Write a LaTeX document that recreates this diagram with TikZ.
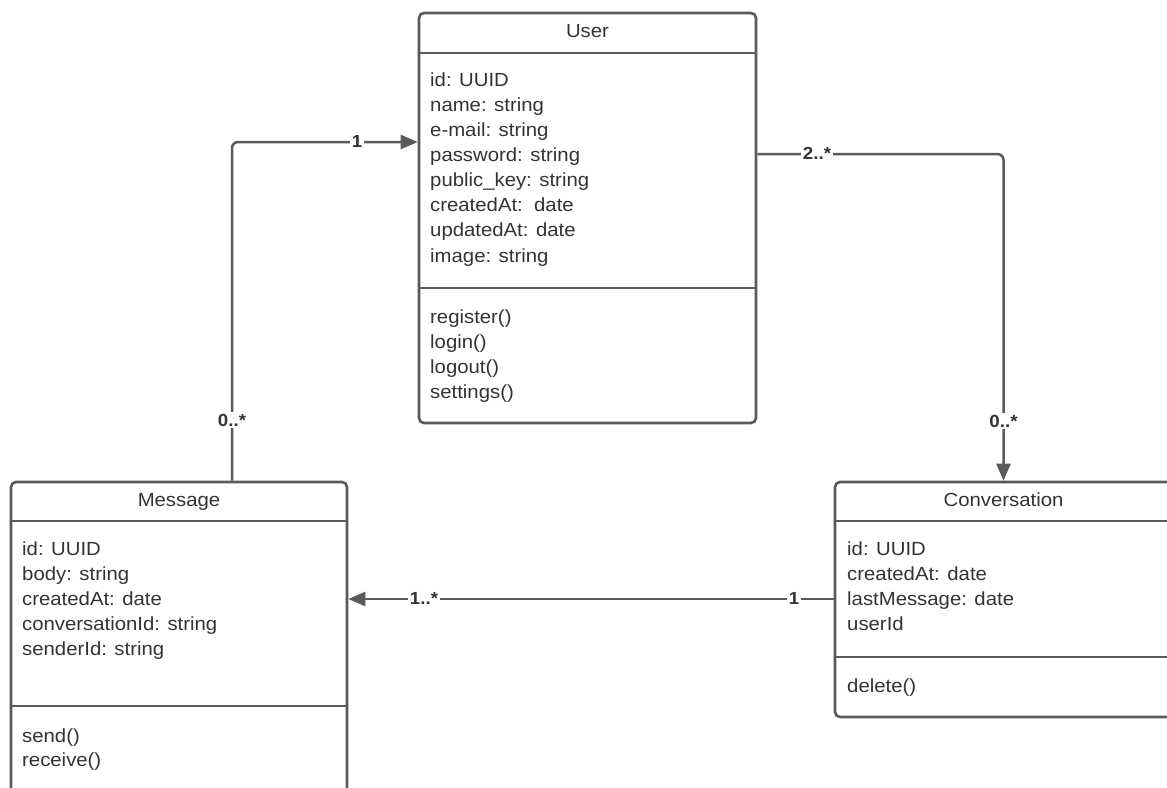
\documentclass[tikz,border=0pt]{standalone}
\usepackage{fontspec}
\setmainfont[FakeStretch=1.07]{Liberation Sans}
\usetikzlibrary{arrows.meta}
\definecolor{linec}{HTML}{5A5A5A}
\definecolor{textc}{HTML}{333333}
\begin{document}
\begin{tikzpicture}[x=1pt,y=-1pt,
  classbox/.style={draw=linec, line width=2.6pt, rounded corners=5pt, fill=white, inner sep=0pt},
  divider/.style={draw=linec, line width=2.6pt},
  title/.style={font=\fontsize{19}{22}\selectfont, text=textc, anchor=base, inner sep=0pt},
  attr/.style={font=\fontsize{19}{22}\selectfont, text=textc, anchor=base west, inner sep=0pt},
  conn/.style={draw=linec, line width=2.5pt, rounded corners=6pt, -{Triangle[length=17pt,width=14pt]}},
  mult/.style={font=\bfseries\fontsize{17.5}{20}\selectfont, text=textc, fill=white, inner sep=1.5pt}]
\useasboundingbox (0,0) rectangle (1167,787);
\clip (0,0) rectangle (1167,787);
\fill[white] (0,0) rectangle (1167,787);

% class boxes
\node[classbox, minimum width=337pt, minimum height=410pt] (user) at (587.5,218) {};
\node[classbox, minimum width=336pt, minimum height=420pt] (msg) at (179,692) {};
\node[classbox, minimum width=337pt, minimum height=235pt] (conv) at (1003.5,599.5) {};

% dividers
\draw[divider] (user.west |- 0,53) -- (user.east |- 0,53);
\draw[divider] (user.west |- 0,288) -- (user.east |- 0,288);
\draw[divider] (msg.west |- 0,521) -- (msg.east |- 0,521);
\draw[divider] (msg.west |- 0,706) -- (msg.east |- 0,706);
\draw[divider] (conv.west |- 0,521) -- (conv.east |- 0,521);
\draw[divider] (conv.west |- 0,657) -- (conv.east |- 0,657);

% titles
\node[title] (usert) at (587.5,37) {User};
\node[title] (msgt) at (179,506) {Message};
\node[title] (convt) at (1003.5,506) {Conversation};

% User attributes
\foreach \t [count=\i from 0] in {id: UUID, name: string, e-mail: string, password: string, public\_key: string, createdAt:\ \ date, updatedAt: date, image: string}
  \node[attr] (ua\i) at (430,{86+25.15*\i}) {\t};
\foreach \t [count=\i from 0] in {register(), login(), logout(), settings()}
  \node[attr] (um\i) at (430,{323+25.15*\i}) {\t};

% Message attributes
\foreach \t [count=\i from 0] in {id: UUID, body: string, createdAt: date, conversationId: string, senderId: string}
  \node[attr] (ma\i) at (22,{555+25.15*\i}) {\t};
\foreach \t [count=\i from 0] in {send(), receive()}
  \node[attr] (mm\i) at (22,{742+24.5*\i}) {\t};

% Conversation attributes
\foreach \t [count=\i from 0] in {id: UUID, createdAt: date, lastMessage: date, userId}
  \node[attr] (ca\i) at (847,{555+25.15*\i}) {\t};
\node[attr] (cm0) at (847,692) {delete()};

% connectors
\draw[conn] (232,0 |- msg.north) -- (232,142) -- (user.west |- 0,142);
\draw[conn] (user.east |- 0,154) -- (conv.north |- 0,154) -- (conv.north);
\draw[conn] (conv.west |- 0,599) -- (msg.east |- 0,599);

% multiplicities
\node[mult] (m1) at (357,141) {1};
\node[mult] (m2) at (232,420) {0..*};
\node[mult] (m3) at (817,153) {2..*};
\node[mult] (m4) at (1003.5,421) {0..*};
\node[mult] (m5) at (424,598) {1..*};
\node[mult] (m6) at (794,598) {1};
\end{tikzpicture}
\end{document}
